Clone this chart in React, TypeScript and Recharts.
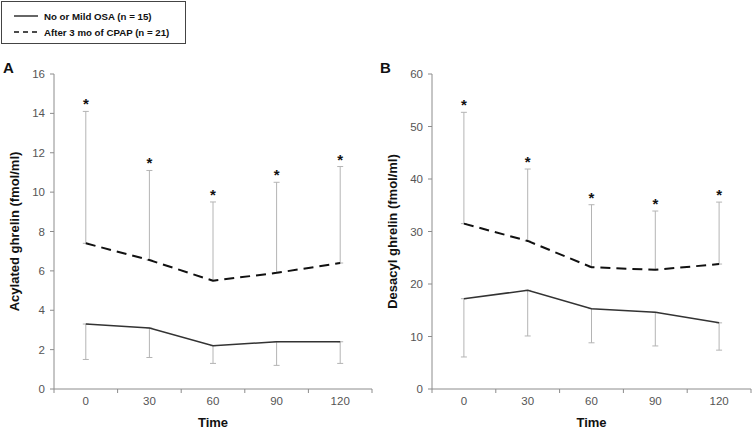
import React from 'react';
import { LineChart, Line, XAxis, YAxis, ErrorBar, LabelList } from 'recharts';

// time points (min)
const times = [0, 30, 60, 90, 120];

// panel A – acylated ghrelin
const acylOsa = [3.3, 3.1, 2.2, 2.4, 2.4];
const acylOsaLow = [1.5, 1.6, 1.3, 1.2, 1.3];
const acylCpap = [7.4, 6.55, 5.5, 5.9, 6.4];
const acylCpapHigh = [14.1, 11.1, 9.5, 10.5, 11.3];
const acylTicks = [0, 2, 4, 6, 8, 10, 12, 14, 16];

// panel B – desacyl ghrelin
const desOsa = [17.2, 18.8, 15.3, 14.6, 12.6];
const desOsaLow = [6.1, 10.1, 8.8, 8.2, 7.4];
const desCpap = [31.5, 28.2, 23.2, 22.7, 23.8];
const desCpapHigh = [52.7, 41.9, 35.1, 33.9, 35.6];
const desTicks = [0, 10, 20, 30, 40, 50, 60];

// x ticks: labels on the times, small marks between them
const xTicks = [-15, 0, 15, 30, 45, 60, 75, 90, 105, 120, 135];

const NARROW = "'Liberation Sans Narrow', 'Arial Narrow', 'Liberation Sans', Arial, sans-serif";
const SANS = "'Liberation Sans', Arial, sans-serif";
const AXIS_GRAY = '#8c8c8c';
const BAR_GRAY = '#b4b4b4';

function buildRows(osa: number[], osaLow: number[], cpap: number[], cpapHigh: number[]) {
  return times.map((t, i) => ({
    time: t,
    osa: osa[i],
    osaLow: osaLow[i],
    cpap: cpap[i],
    cpapHigh: cpapHigh[i],
  }));
}

const XTick = (props: any) => {
  const { x, y, payload } = props;
  if (payload.value % 30 === 0) {
    return (
      <text x={x} y={y + 16} textAnchor="middle" fill="#555" fontSize={11.5} fontFamily={NARROW}>
        {payload.value}
      </text>
    );
  }
  return <line x1={x} y1={y} x2={x} y2={y + 4} stroke={AXIS_GRAY} strokeWidth={1} />;
};

const Star = (props: any) => {
  const { x, y } = props;
  return (
    <text x={x} y={y - 2} textAnchor="middle" fontSize={15} fontWeight="bold" fill="#111" fontFamily={SANS}>
      *
    </text>
  );
};

interface PanelProps {
  rows: ReturnType<typeof buildRows>;
  yMax: number;
  yTicks: number[];
  yTitle: string;
  width: number;
  axisWidth: number;
  right: number;
  titleX: number;
}

function Panel({ rows, yMax, yTicks, yTitle, width, axisWidth, right, titleX }: PanelProps) {
  return (
    <LineChart width={width} height={430} data={rows} margin={{ top: 74, right, bottom: 0, left: 0 }}>
      <XAxis
        dataKey="time"
        type="number"
        domain={[-15, 135]}
        ticks={xTicks}
        interval={0}
        tickLine={false}
        tickSize={0}
        tickMargin={0}
        tick={<XTick />}
        axisLine={{ stroke: AXIS_GRAY }}
        height={41}
        label={{
          content: ({ viewBox }: any) => (
            <text
              x={viewBox.x + viewBox.width / 2}
              y={viewBox.y + 38}
              textAnchor="middle"
              fontSize={13}
              fontWeight="bold"
              fill="#111"
              fontFamily={SANS}
            >
              Time
            </text>
          ),
        }}
      />
      <YAxis
        domain={[0, yMax]}
        ticks={yTicks}
        interval={0}
        width={axisWidth}
        tickSize={4}
        tickMargin={5}
        tickLine={{ stroke: AXIS_GRAY }}
        axisLine={{ stroke: AXIS_GRAY }}
        tick={{ fill: '#555', fontSize: 11.5, fontFamily: NARROW }}
        label={{
          content: ({ viewBox }: any) => {
            const cx = viewBox.x + titleX;
            const cy = viewBox.y + viewBox.height / 2;
            return (
              <text
                x={cx}
                y={cy}
                transform={`rotate(-90, ${cx}, ${cy})`}
                textAnchor="middle"
                dominantBaseline="central"
                fontSize={13}
                fontWeight="bold"
                fill="#111"
                fontFamily={SANS}
              >
                {yTitle}
              </text>
            );
          },
        }}
      />

      {/* error bars drawn first so the lines sit on top */}
      <Line dataKey="cpap" stroke="none" dot={false} activeDot={false} isAnimationActive={false}>
        <ErrorBar
          dataKey={(d: any) => [0, d.cpapHigh - d.cpap]}
          direction="y"
          width={3}
          stroke={BAR_GRAY}
          strokeWidth={1}
        />
      </Line>
      <Line dataKey="osa" stroke="none" dot={false} activeDot={false} isAnimationActive={false}>
        <ErrorBar
          dataKey={(d: any) => [d.osa - d.osaLow, 0]}
          direction="y"
          width={3}
          stroke={BAR_GRAY}
          strokeWidth={1}
        />
      </Line>

      <Line
        dataKey="osa"
        type="linear"
        stroke="#333"
        strokeWidth={1.5}
        dot={false}
        activeDot={false}
        isAnimationActive={false}
      />
      <Line
        dataKey="cpap"
        type="linear"
        stroke="#111"
        strokeWidth={2}
        strokeDasharray="10 6"
        dot={false}
        activeDot={false}
        isAnimationActive={false}
      />

      {/* significance stars above the upper error bar */}
      <Line dataKey="cpapHigh" stroke="none" dot={false} activeDot={false} isAnimationActive={false}>
        <LabelList dataKey="cpapHigh" content={<Star />} />
      </Line>
    </LineChart>
  );
}

function LegendBox() {
  const rowStyle: React.CSSProperties = { display: 'flex', alignItems: 'center', height: 16 };
  const textStyle: React.CSSProperties = {
    fontFamily: SANS,
    fontWeight: 'bold',
    fontSize: 9.7,
    color: '#111',
    marginLeft: 6,
    whiteSpace: 'nowrap',
  };
  return (
    <div
      style={{
        position: 'absolute',
        left: 1,
        top: 1,
        width: 185,
        height: 43,
        border: '1px solid #444',
        boxSizing: 'border-box',
        paddingLeft: 12,
        paddingTop: 6,
      }}
    >
      <div style={rowStyle}>
        <svg width={24} height={4}>
          <line x1={0} y1={2} x2={24} y2={2} stroke="#333" strokeWidth={1.5} />
        </svg>
        <span style={textStyle}>No or Mild OSA (n = 15)</span>
      </div>
      <div style={rowStyle}>
        <svg width={24} height={4}>
          <line x1={0} y1={2} x2={24} y2={2} stroke="#111" strokeWidth={1.5} strokeDasharray="5 4" />
        </svg>
        <span style={textStyle}>After 3 mo of CPAP (n = 21)</span>
      </div>
    </div>
  );
}

const panelLetter: React.CSSProperties = {
  position: 'absolute',
  top: 58,
  fontFamily: SANS,
  fontWeight: 'bold',
  fontSize: 15,
  color: '#111',
  lineHeight: '20px',
};

export default function App() {
  const rowsA = buildRows(acylOsa, acylOsaLow, acylCpap, acylCpapHigh);
  const rowsB = buildRows(desOsa, desOsaLow, desCpap, desCpapHigh);
  return (
    <div style={{ position: 'absolute', left: 0, top: 0, width: 752, height: 430, background: '#fff', overflow: 'hidden' }}>
      <div style={{ position: 'absolute', left: 0, top: 0 }}>
        <Panel
          rows={rowsA}
          yMax={16}
          yTicks={acylTicks}
          yTitle="Acylated ghrelin (fmol/ml)"
          width={380}
          axisWidth={54}
          right={8}
          titleX={14}
        />
      </div>
      <div style={{ position: 'absolute', left: 380, top: 0 }}>
        <Panel
          rows={rowsB}
          yMax={60}
          yTicks={desTicks}
          yTitle="Desacyl ghrelin (fmol/ml)"
          width={372}
          axisWidth={52}
          right={1}
          titleX={12}
        />
      </div>
      <LegendBox />
      <div style={{ ...panelLetter, left: 3 }}>A</div>
      <div style={{ ...panelLetter, left: 380 }}>B</div>
    </div>
  );
}
